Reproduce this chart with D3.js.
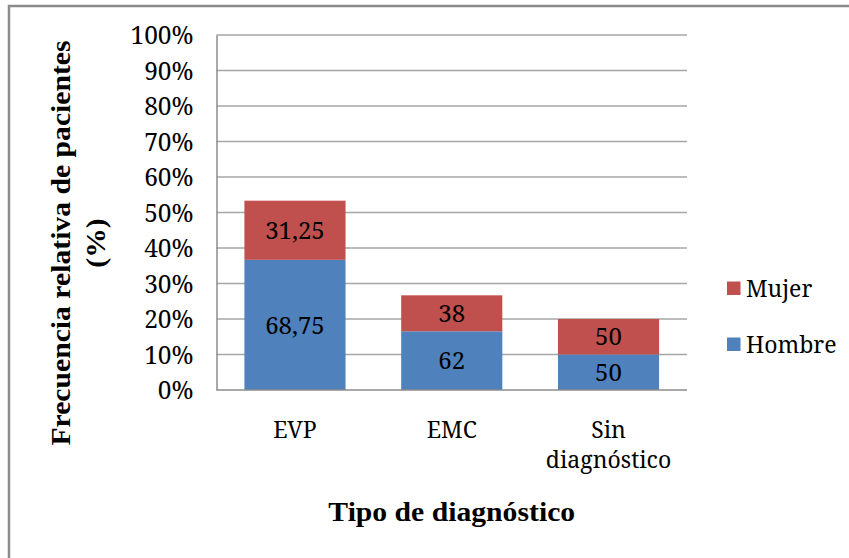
<!DOCTYPE html>
<html>
<head>
<meta charset="utf-8">
<script src="https://cdn.jsdelivr.net/npm/d3@7"></script>
<style>
  html, body { margin: 0; padding: 0; background: #fff; }
  svg { display: block; }
</style>
</head>
<body>
<svg id="chart" width="849" height="558"></svg>
<script>
// Diagnosis groups and their share of all patients (%)
const categories = ["EVP", "EMC", "Sin diagnóstico"];
const groupTotals = [53.33, 26.67, 20];
// Sex split inside each diagnosis group (% of the group)
const hombreShare = [68.75, 62, 50];
const mujerShare = [31.25, 38, 50];
const shareLabels = { Hombre: ["68,75", "62", "50"], Mujer: ["31,25", "38", "50"] };
const seriesNames = ["Hombre", "Mujer"];
const yTicks = [0, 10, 20, 30, 40, 50, 60, 70, 80, 90, 100];

const colors = { Hombre: "#4F81BD", Mujer: "#C0504D" };
const FONT = "'Noto Serif', 'DejaVu Serif', serif";
const FONT_BOLD = "'Liberation Serif', 'Times New Roman', serif";

const svg = d3.select("#chart");
const margin = { left: 216.5, top: 35, right: 162, bottom: 168 };
const W = 849, H = 558;
const iw = W - margin.left - margin.right;
const ih = H - margin.top - margin.bottom;

// Outer chart frame (only top and left edges fall inside the view)
svg.append("rect")
  .attr("x", 9).attr("y", 6)
  .attr("width", W + 20).attr("height", H + 20)
  .attr("fill", "none").attr("stroke", "#8c8c8c").attr("stroke-width", 2.5);

const g = svg.append("g").attr("transform", `translate(${margin.left},${margin.top})`);

const x = d3.scaleBand().domain(categories).range([0, iw]).paddingInner(0.355).paddingOuter(0.178);
const y = d3.scaleLinear().domain([0, 100]).range([ih, 0]);

// Stacked segments: each sex's part of the group's overall share
const rows = categories.map((c, i) => ({
  cat: c,
  Hombre: groupTotals[i] * hombreShare[i] / 100,
  Mujer: groupTotals[i] * mujerShare[i] / 100,
  i
}));
const stacked = d3.stack().keys(seriesNames)(rows);

// Gridlines
g.append("g")
  .selectAll("line")
  .data(yTicks.filter(t => t > 0))
  .join("line")
  .attr("x1", 0).attr("x2", iw)
  .attr("y1", d => y(d)).attr("y2", d => y(d))
  .attr("stroke", "#a6a6a6").attr("stroke-width", 1.3);

// Bars
stacked.forEach(layer => {
  g.append("g")
    .selectAll("rect")
    .data(layer)
    .join("rect")
    .attr("x", d => x(d.data.cat))
    .attr("width", x.bandwidth())
    .attr("y", d => y(d[1]))
    .attr("height", d => y(d[0]) - y(d[1]))
    .attr("fill", colors[layer.key]);

  g.append("g")
    .selectAll("text")
    .data(layer)
    .join("text")
    .attr("x", d => x(d.data.cat) + x.bandwidth() / 2)
    .attr("y", d => (y(d[0]) + y(d[1])) / 2)
    .attr("dy", "0.36em")
    .attr("text-anchor", "middle")
    .attr("fill", "#000")
    .style("font-family", FONT)
    .style("font-size", "24px")
    .text(d => shareLabels[layer.key][d.data.i]);
});

// Axes
const yAxis = d3.axisLeft(y).tickValues(yTicks).tickSize(0).tickPadding(23).tickFormat(d => d + "%");
const yg = g.append("g").call(yAxis);
yg.select(".domain").attr("stroke", "#8c8c8c").attr("stroke-width", 1.5);
yg.selectAll("text").attr("fill", "#000").style("font-family", FONT).style("font-size", "24.5px").attr("dy", "0.36em");

const xAxis = d3.axisBottom(x).tickSize(0).tickPadding(0);
const xg = g.append("g").attr("transform", `translate(0,${ih})`).call(xAxis);
xg.select(".domain").attr("stroke", "#8c8c8c").attr("stroke-width", 1.5).attr("d", `M0,0H${iw}`);
xg.selectAll(".tick text").remove();
xg.selectAll(".tick").each(function (d) {
  const words = d === "Sin diagnóstico" ? ["Sin", "diagnóstico"] : [d];
  const t = d3.select(this).append("text")
    .attr("text-anchor", "middle")
    .attr("fill", "#000")
    .style("font-family", FONT)
    .style("font-size", "23px");
  words.forEach((w, k) => {
    t.append("tspan").attr("x", 0).attr("y", 48 + k * 30).text(w);
  });
});

// Axis titles (slightly widened bold serif)
const titleStyle = sel => sel.attr("text-anchor", "middle").attr("fill", "#000")
  .style("font-family", FONT_BOLD).style("font-size", "26.5px").style("font-weight", "bold");
svg.append("text")
  .attr("transform", "translate(70,243) rotate(-90) scale(1.12,1)")
  .call(titleStyle)
  .text("Frecuencia relativa de pacientes");
svg.append("text")
  .attr("transform", "translate(105,243) rotate(-90) scale(1.12,1)")
  .call(titleStyle)
  .text("(%)");
svg.append("text")
  .attr("transform", `translate(${margin.left + iw / 2},521) scale(1.12,1)`)
  .call(titleStyle)
  .text("Tipo de diagnóstico");

// Legend (Mujer on top, Hombre below)
const legend = svg.append("g").attr("transform", "translate(727,281.5)");
["Mujer", "Hombre"].forEach((name, k) => {
  const row = legend.append("g").attr("transform", `translate(0,${k * 56})`);
  row.append("rect").attr("width", 13.5).attr("height", 13.5).attr("fill", colors[name]);
  row.append("text").attr("x", 19).attr("y", 6.75).attr("dy", "0.36em")
    .attr("fill", "#000")
    .style("font-family", FONT)
    .style("font-size", "23px").text(name);
});
</script>
</body>
</html>
